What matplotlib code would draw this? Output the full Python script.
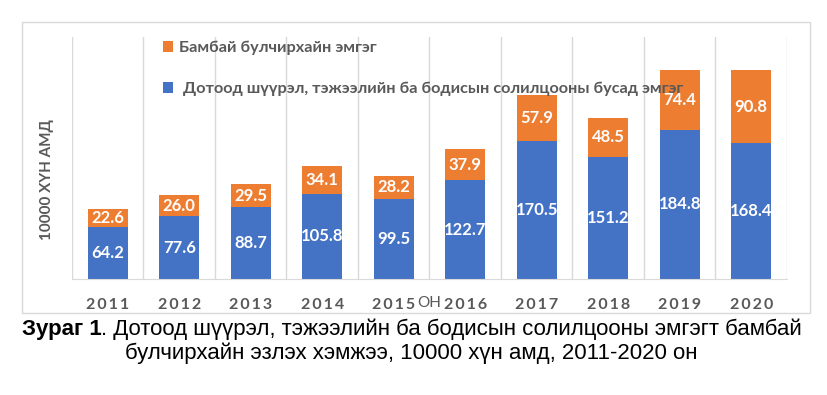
import matplotlib
matplotlib.use('Agg')
import matplotlib.pyplot as plt
from matplotlib.patches import Rectangle
import numpy as np

years = ['2011', '2012', '2013', '2014', '2015', '2016', '2017', '2018', '2019', '2020']
dotood = [64.2, 77.6, 88.7, 105.8, 99.5, 122.7, 170.5, 151.2, 184.8, 168.4]
bambai = [22.6, 26.0, 29.5, 34.1, 28.2, 37.9, 57.9, 48.5, 74.4, 90.8]

blue = '#4472C4'
orange = '#ED7D31'
gray = '#595959'
grid = '#D9D9D9'

plt.rcParams['font.family'] = ['Lato', 'DejaVu Sans']

fig = plt.figure(figsize=(8.28, 3.95), dpi=100)
ax = fig.add_axes([72 / 828, 1 - 279 / 395, 715 / 828, 242 / 395])

x = np.arange(len(years))
b1 = ax.bar(x, dotood, width=0.56, color=blue, zorder=2,
            label=' Дотоод шүүрэл, тэжээлийн ба бодисын солилцооны бусад эмгэг')
b2 = ax.bar(x, bambai, width=0.56, bottom=dotood, color=orange, zorder=2,
            label='Бамбай булчирхайн эмгэг')

for i in range(len(years)):
    ax.text(x[i], dotood[i] / 2, f'{dotood[i]:.1f}', ha='center', va='center',
            color='white', fontsize=12, fontweight='bold', zorder=3)
    ax.text(x[i], dotood[i] + bambai[i] / 2, f'{bambai[i]:.1f}', ha='center', va='center',
            color='white', fontsize=12, fontweight='bold', zorder=3)

# letter-spaced year labels
spaced = ['\u2009'.join(y) for y in years]

ax.set_xlim(-0.5, len(years) - 0.5)
ax.set_ylim(0, 300)
ax.set_xticks(x)
ax.set_xticklabels(spaced, fontsize=11.5, fontweight='bold', color=gray)
ax.set_xticks(np.arange(-0.5, len(years)), minor=True)
ax.tick_params(axis='x', which='both', length=0, pad=14)
ax.grid(which='minor', axis='x', color=grid, lw=1, zorder=0)
ax.set_yticks([])
for s in ['top', 'left', 'right']:
    ax.spines[s].set_visible(False)
ax.spines['bottom'].set_color(grid)

ax.set_xlabel('ОН', fontsize=11, color=gray)
ax.xaxis.set_label_coords(0.5, -0.1)
ax.xaxis.label.set_va('center')

fig.text(47 / 828, 1 - 180 / 395, '10000 ХҮН АМД', rotation=90, ha='center', va='center',
         fontsize=11, fontweight='bold', color=gray)

leg = ax.legend(handles=[b2, b1], loc='upper left', bbox_to_anchor=(0.127, 0.983),
                frameon=False, fontsize=11.7, handlelength=0.65, handleheight=0.65,
                labelspacing=1.6, handletextpad=0.35, borderpad=0, borderaxespad=0)
for t in leg.get_texts():
    t.set_fontweight('bold')
    t.set_color(gray)
leg.set_zorder(5)

fig.patches.append(Rectangle((22 / 828, 1 - 313 / 395), 788 / 828, 291 / 395,
                             transform=fig.transFigure, fill=False, ec=grid, lw=1))

cap_font = ['Liberation Sans', 'DejaVu Sans']
fig.canvas.draw()
r = fig.canvas.get_renderer()
t1 = fig.text(0, 1 - 329 / 395, 'Зураг 1', fontsize=16, fontweight='bold',
              family=cap_font, va='center')
t2 = fig.text(0, 1 - 329 / 395, '. Дотоод шүүрэл, тэжээлийн ба бодисын солилцооны эмгэгт бамбай',
              fontsize=16, family=cap_font, va='center')
w1 = t1.get_window_extent(r).width
w2 = t2.get_window_extent(r).width
x0 = (828 - w1 - w2) / 2 - 2
t1.set_x(x0 / 828)
t2.set_x((x0 + w1) / 828)
fig.text(0.5 - 3 / 828, 1 - 353 / 395, 'булчирхайн эзлэх хэмжээ, 10000 хүн амд, 2011-2020 он',
         fontsize=16, family=cap_font, ha='center', va='center')

fig.savefig('out.png', dpi=100)
